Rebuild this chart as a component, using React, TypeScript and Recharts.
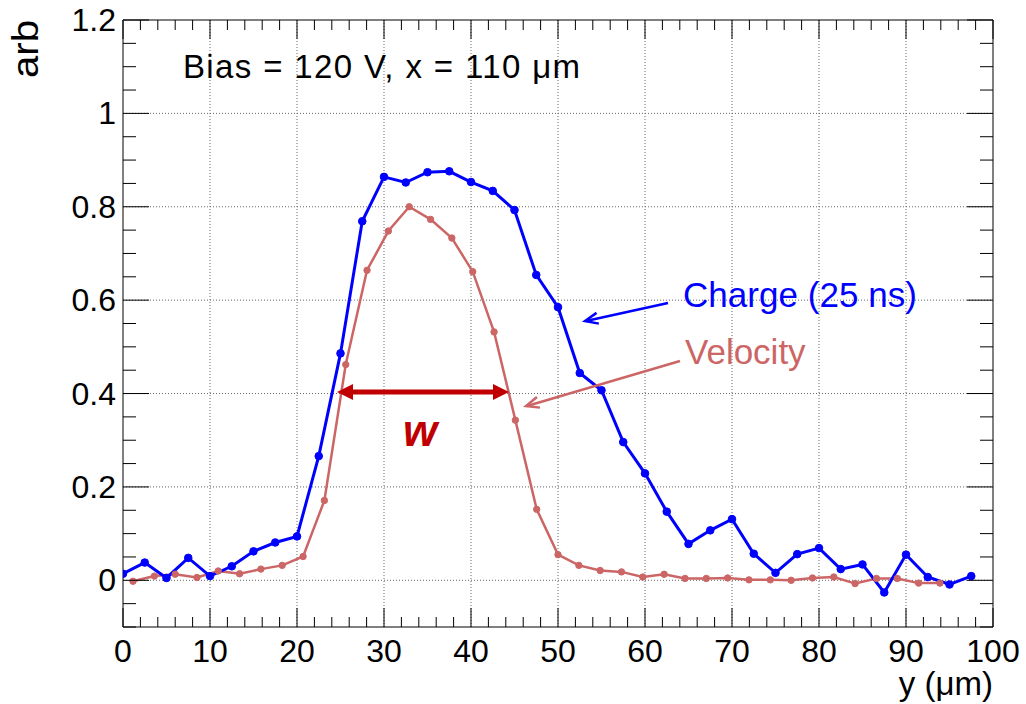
import React from 'react';
import { LineChart, Line, XAxis, YAxis, ReferenceLine } from 'recharts';

// Charge (25 ns): blue curve, one point every 2.5 um
const chargeX = [
  0, 2.5, 5, 7.5, 10, 12.5, 15, 17.5, 20, 22.5, 25, 27.5, 30, 32.5, 35, 37.5, 40,
  42.5, 45, 47.5, 50, 52.5, 55, 57.5, 60, 62.5, 65, 67.5, 70, 72.5, 75, 77.5, 80,
  82.5, 85, 87.5, 90, 92.5, 95, 97.5,
];
const chargeY = [
  0.014, 0.038, 0.005, 0.048, 0.009, 0.03, 0.062, 0.081, 0.094, 0.266, 0.486,
  0.769, 0.864, 0.852, 0.874, 0.876, 0.853, 0.834, 0.793, 0.654, 0.585, 0.444,
  0.407, 0.296, 0.229, 0.147, 0.078, 0.107, 0.131, 0.057, 0.016, 0.056, 0.069,
  0.024, 0.034, -0.026, 0.055, 0.007, -0.009, 0.009,
];

// Velocity: red curve
const velocityX = [
  1.15, 3.6, 6.0, 8.5, 10.95, 13.4, 15.85, 18.3, 20.7, 23.15, 25.6, 28.05, 30.5,
  32.9, 35.35, 37.8, 40.2, 42.65, 45.1, 47.55, 50.0, 52.4, 54.85, 57.3, 59.75,
  62.2, 64.6, 67.05, 69.5, 71.95, 74.4, 76.8, 79.25, 81.7, 84.15, 86.6, 89.0,
  91.45, 93.9,
];
const velocityY = [
  -0.002, 0.009, 0.013, 0.006, 0.02, 0.014, 0.024, 0.032, 0.051, 0.171, 0.462,
  0.664, 0.748, 0.8, 0.773, 0.733, 0.661, 0.532, 0.343, 0.152, 0.055, 0.032,
  0.021, 0.018, 0.007, 0.013, 0.004, 0.004, 0.005, 0.001, 0.001, 0.0, 0.005,
  0.007, -0.007, 0.004, 0.004, -0.006, -0.006,
];

const xMajorTicks = [0, 10, 20, 30, 40, 50, 60, 70, 80, 90, 100];
const yMajorTicks = [0, 0.2, 0.4, 0.6, 0.8, 1, 1.2];
const xDomain = [0, 100];
const yDomain = [-0.1, 1.2];

// minor ticks every 2 um / every 0.05
const xAllTicks = Array.from({ length: 51 }, (_, i) => i * 2);
const yAllTicks = Array.from({ length: 27 }, (_, i) => Math.round((-0.1 + i * 0.05) * 100) / 100);

const chargeData = chargeX.map((x, i) => ({ x, v: chargeY[i] }));
const velocityData = velocityX.map((x, i) => ({ x, v: velocityY[i] }));

const BLUE = '#0000ff';
const RED = '#cc6666';
const DARK_RED = '#c00000';
const FONT = '"Liberation Sans", Arial, Helvetica, sans-serif';

const isMajor = (v: number, majors: number[]) => majors.some((m) => Math.abs(m - v) < 1e-6);
const fmt = (v: number) => String(Math.round(v * 100) / 100);

const BottomTick = ({ x, y, payload }: any) => {
  const major = isMajor(payload.value, xMajorTicks);
  return (
    <g>
      <line x1={x} x2={x} y1={y} y2={y - (major ? 19 : 10)} stroke="#000" strokeWidth={1} />
      {major && (
        <text x={x} y={y + 35} textAnchor="middle" fontSize={32} fill="#000" fontFamily={FONT}>
          {fmt(payload.value)}
        </text>
      )}
    </g>
  );
};

const TopTick = ({ x, y, payload }: any) => {
  const major = isMajor(payload.value, xMajorTicks);
  return <line x1={x} x2={x} y1={y} y2={y + (major ? 19 : 10)} stroke="#000" strokeWidth={1} />;
};

const LeftTick = ({ x, y, payload }: any) => {
  const major = isMajor(payload.value, yMajorTicks);
  return (
    <g>
      <line x1={x} x2={x + (major ? 26 : 13)} y1={y} y2={y} stroke="#000" strokeWidth={1} />
      {major && (
        <text x={x - 7} y={y + 11} textAnchor="end" fontSize={32} fill="#000" fontFamily={FONT}>
          {fmt(payload.value)}
        </text>
      )}
    </g>
  );
};

const RightTick = ({ x, y, payload }: any) => {
  const major = isMajor(payload.value, yMajorTicks);
  return <line x1={x} x2={x - (major ? 26 : 13)} y1={y} y2={y} stroke="#000" strokeWidth={1} />;
};

// arrow head points for an annotation arrow pointing from (fx,fy) to (tx,ty)
const head = (fx: number, fy: number, tx: number, ty: number, len: number, half: number) => {
  const a = Math.atan2(ty - fy, tx - fx);
  const bx = tx - len * Math.cos(a);
  const by = ty - len * Math.sin(a);
  const px = -Math.sin(a);
  const py = Math.cos(a);
  return `${bx + half * px},${by + half * py} ${tx},${ty} ${bx - half * px},${by - half * py}`;
};

const Annotations = () => (
  <svg
    width={1026}
    height={704}
    style={{ position: 'absolute', left: 0, top: 0, pointerEvents: 'none' }}
    fontFamily={FONT}
  >
    <text x={183} y={78} fontSize={33} fill="#000" textLength={397} lengthAdjust="spacing">
      Bias = 120 V, x = 110 μm
    </text>
    <text x={683} y={307} fontSize={35} fill={BLUE} textLength={234} lengthAdjust="spacing">
      Charge (25 ns)
    </text>
    <text x={685} y={364} fontSize={35} fill={RED}>
      Velocity
    </text>

    {/* charge arrow */}
    <line x1={668} y1={303} x2={586} y2={321} stroke={BLUE} strokeWidth={2.5} />
    <polyline points={head(668, 303, 585, 321, 13, 5.5)} fill="none" stroke={BLUE} strokeWidth={2.5} />

    {/* velocity arrow */}
    <line x1={680} y1={361} x2={527} y2={406} stroke={RED} strokeWidth={2.5} />
    <polyline points={head(680, 361, 526, 406, 13, 5.5)} fill="none" stroke={RED} strokeWidth={2.5} />

    {/* width arrow */}
    <line x1={350} y1={392} x2={496} y2={392} stroke={DARK_RED} strokeWidth={5} />
    <polygon points={head(420, 392, 337, 392, 16, 8)} fill={DARK_RED} />
    <polygon points={head(420, 392, 509, 392, 16, 8)} fill={DARK_RED} />
    <text x={420} y={446} textAnchor="middle" fontSize={44} fontWeight="bold" fontStyle="italic" fill={DARK_RED}>
      w
    </text>

    {/* axis titles */}
    <text
      x={38}
      y={49}
      fontSize={36}
      fill="#000"
      textAnchor="middle"
      textLength={58}
      lengthAdjust="spacingAndGlyphs"
      transform="rotate(-90 38 49)"
    >
      arb
    </text>
    <text x={993} y={695} fontSize={33} fill="#000" textAnchor="end">
      y (μm)
    </text>
  </svg>
);

export default function App() {
  return (
    <div
      style={{
        position: 'absolute',
        left: 0,
        top: 0,
        width: 1026,
        height: 704,
        background: '#fff',
        fontFamily: FONT,
      }}
    >
      <LineChart width={1026} height={704} margin={{ top: 19, right: 32, bottom: 76, left: 122 }}>
        <XAxis
          xAxisId="bottom"
          dataKey="x"
          type="number"
          domain={xDomain}
          ticks={xAllTicks}
          interval={0}
          allowDataOverflow
          height={1}
          tickSize={0}
          tickMargin={0}
          tickLine={false}
          tick={BottomTick}
          axisLine={{ stroke: '#000', strokeWidth: 1 }}
        />
        <XAxis
          xAxisId="top"
          orientation="top"
          dataKey="x"
          type="number"
          domain={xDomain}
          ticks={xAllTicks}
          interval={0}
          allowDataOverflow
          height={1}
          tickSize={0}
          tickMargin={0}
          tickLine={false}
          tick={TopTick}
          axisLine={{ stroke: '#000', strokeWidth: 1 }}
        />
        <YAxis
          yAxisId="left"
          type="number"
          domain={yDomain}
          ticks={yAllTicks}
          interval={0}
          allowDataOverflow
          width={1}
          tickSize={0}
          tickMargin={0}
          tickLine={false}
          tick={LeftTick}
          axisLine={{ stroke: '#000', strokeWidth: 1 }}
        />
        <YAxis
          yAxisId="right"
          orientation="right"
          type="number"
          domain={yDomain}
          ticks={yAllTicks}
          interval={0}
          allowDataOverflow
          width={1}
          tickSize={0}
          tickMargin={0}
          tickLine={false}
          tick={RightTick}
          axisLine={{ stroke: '#000', strokeWidth: 1 }}
        />

        {xMajorTicks.slice(1, -1).map((v) => (
          <ReferenceLine
            key={`gx${v}`}
            x={v}
            xAxisId="bottom"
            yAxisId="left"
            stroke="#666"
            strokeWidth={1}
            strokeDasharray="1 2"
          />
        ))}
        {yMajorTicks.slice(0, -1).map((v) => (
          <ReferenceLine
            key={`gy${v}`}
            y={v}
            xAxisId="bottom"
            yAxisId="left"
            stroke="#666"
            strokeWidth={1}
            strokeDasharray="1 2"
          />
        ))}

        <Line
          xAxisId="bottom"
          yAxisId="left"
          data={velocityData}
          dataKey="v"
          type="linear"
          stroke={RED}
          strokeWidth={2.5}
          dot={{ r: 3.2, fill: RED, stroke: RED, strokeWidth: 1 }}
          isAnimationActive={false}
        />
        <Line
          xAxisId="bottom"
          yAxisId="left"
          data={chargeData}
          dataKey="v"
          type="linear"
          stroke={BLUE}
          strokeWidth={3}
          dot={{ r: 3.8, fill: BLUE, stroke: BLUE, strokeWidth: 1 }}
          isAnimationActive={false}
        />
      </LineChart>
      <Annotations />
    </div>
  );
}
